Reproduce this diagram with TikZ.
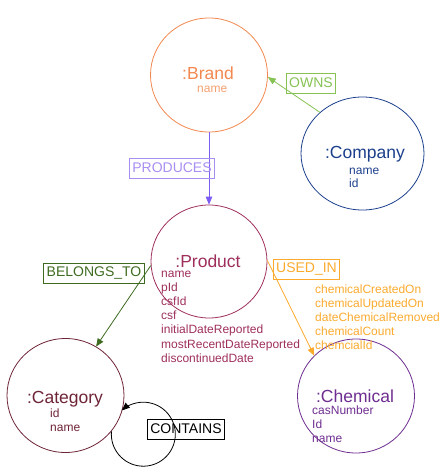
\documentclass[tikz,border=0pt]{standalone}
\usepackage{fontspec}
\setmainfont{Liberation Sans}
\usetikzlibrary{arrows,shapes.geometric}

\definecolor{brandcol}{HTML}{F2884F}
\definecolor{brandattr}{HTML}{F5A070}
\definecolor{companycol}{HTML}{1C3F8C}
\definecolor{productcol}{HTML}{9E2F5C}
\definecolor{categorycol}{HTML}{6E2437}
\definecolor{chemicalcol}{HTML}{6E2D90}
\definecolor{ownscol}{HTML}{86C254}
\definecolor{producescol}{HTML}{A98EF2}
\definecolor{producesarrow}{HTML}{7C5CF2}
\definecolor{belongscol}{HTML}{3E6B20}
\definecolor{usedcol}{HTML}{FBAA2D}

\begin{document}
\begin{tikzpicture}[x=1pt, y=-1pt,
    entity/.style={ellipse, draw=#1, line width=0.8pt, minimum width=117pt, minimum height=114pt, inner sep=0pt},
    etitle/.style={text=#1, font=\fontsize{17.5}{20}\selectfont, anchor=base, inner sep=0pt},
    eattr/.style={text=#1, font=\fontsize{12}{14}\selectfont, anchor=base west, inner sep=0pt},
    relbox/.style={draw=#1, text=#1, font=\fontsize{14}{16}\selectfont, line width=0.8pt, inner xsep=3pt, minimum height=20pt},
    relarrow/.style={draw=#1, line width=0.8pt, -triangle 45}
  ]
  \useasboundingbox (0,0) rectangle (441,476);

  % entities
  \node[entity=brandcol] (brand) at (209,75) {};
  \node[entity=companycol, minimum width=123pt, minimum height=113pt] (company) at (362.5,153.5) {};
  \node[entity=productcol, minimum width=116pt, minimum height=113pt] (product) at (209,261.5) {};
  \node[entity=categorycol] (category) at (65.5,395.5) {};
  \node[entity=chemicalcol] (chemical) at (356,396) {};

  % titles and properties
  \node[etitle=brandcol] (brand-t) at (208,80) {:Brand};
  \node[eattr=brandattr] (brand-a0) at (197,93) {name};

  \node[etitle=companycol] (company-t) at (365,158) {:Company};
  \node[eattr=companycol] (company-a0) at (349,174) {name};
  \node[eattr=companycol] (company-a1) at (349,187.5) {id};

  \node[etitle=productcol] (product-t) at (208,267.5) {:Product};
  \foreach \a [count=\i from 0] in {name,pId,csfId,csf,initialDateReported,mostRecentDateReported,discontinuedDate}
    \node[eattr=productcol] (product-a\i) at (161,277.5+14.1*\i) {\a};

  \node[etitle=categorycol] (category-t) at (65,403) {:Category};
  \node[eattr=categorycol] (category-a0) at (50,417) {id};
  \node[eattr=categorycol] (category-a1) at (50,431) {name};

  \node[etitle=chemicalcol] (chemical-t) at (355,402.5) {:Chemical};
  \foreach \a [count=\i from 0] in {casNumber,Id,name}
    \node[eattr=chemicalcol] (chemical-a\i) at (312,414.5+14*\i) {\a};

  % relationships
  \draw[relarrow=ownscol] (company.136) -- (brand.-2);
  \draw[relarrow=producesarrow] (brand.south) -- (product.north);
  \draw[relarrow=belongscol] (product.184) -- (category.58);
  \draw[relarrow=usedcol] (product.1) -- (chemical.136);
  \draw[relarrow=black] (category.-38) arc[start angle=185, end angle=-132, radius=32];

  \node[relbox=ownscol] (owns) at (311,83) {OWNS};
  \node[relbox=producescol] (produces) at (172,168) {PRODUCES};
  \node[relbox=belongscol] (belongs) at (94,273.5) {BELONGS\_TO};
  \node[relbox=usedcol] (usedin) at (306.5,269) {USED\_IN};
  \node[relbox=black] (contains) at (186,429) {CONTAINS};

  \foreach \a [count=\i from 0] in {chemicalCreatedOn,chemicalUpdatedOn,dateChemicalRemoved,chemicalCount,chemcialId}
    \node[eattr=usedcol] (usedin-a\i) at (315,293+14*\i) {\a};
\end{tikzpicture}
\end{document}
